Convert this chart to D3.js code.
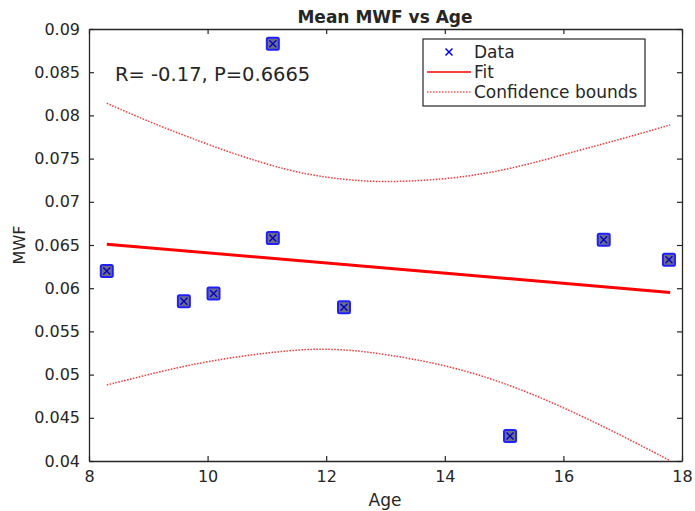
<!DOCTYPE html>
<html><head><meta charset="utf-8">
<script src="https://cdn.jsdelivr.net/npm/d3@7"></script>
<style>body{margin:0;background:#fff}text{font-family:"DejaVu Sans",sans-serif;fill:#262626}</style>
</head><body>
<svg id="c" width="695" height="511"></svg>
<script>
const ages = [8.3, 9.6, 10.1, 11.1, 11.1, 12.3, 15.1, 16.68, 17.78];
const mwf  = [0.0620, 0.0585, 0.0594, 0.0883, 0.0658, 0.0578, 0.0429, 0.0656, 0.0633];
const fitX = [8.3, 17.8];
const fitY = [0.0651, 0.0595];
const upperX = [8.3, 9.0, 9.67, 10.5, 11.36, 12.0, 12.6, 13.04, 13.8, 14.59, 15.4, 16.28, 17.0, 17.8];
const upperY = [0.0814, 0.0793, 0.0775, 0.0754, 0.0736, 0.0728, 0.0724, 0.0723, 0.0725, 0.0731, 0.0743, 0.0760, 0.0773, 0.0789];
const lowerX = [8.3, 9.0, 9.67, 10.5, 11.36, 11.91, 12.5, 13.04, 13.8, 14.59, 15.44, 16.28, 17.0, 17.78];
const lowerY = [0.0488, 0.0500, 0.0511, 0.0521, 0.0528, 0.0530, 0.0528, 0.0523, 0.0514, 0.0500, 0.0479, 0.0453, 0.0429, 0.0401];
const xTicks = [8, 10, 12, 14, 16, 18];
const yTicks = [0.04, 0.045, 0.05, 0.055, 0.06, 0.065, 0.07, 0.075, 0.08, 0.085, 0.09];
const title = "Mean MWF vs Age";
const annotation = "R= -0.17, P=0.6665";
const legendLabels = ["Data", "Fit", "Confidence bounds"];

const svg = d3.select("#c");
const L = 89, R = 682, T = 29, B = 461;
const x = d3.scaleLinear().domain([8, 18]).range([L, R]);
const y = d3.scaleLinear().domain([0.04, 0.09]).range([B, T]);
const axisColor = "#262626";

const fmtY = d => d3.format("")(+d.toFixed(3));
const gx = svg.append("g").attr("transform", `translate(0,${B})`)
  .call(d3.axisBottom(x).tickValues(xTicks).tickSizeInner(-5).tickSizeOuter(0).tickPadding(10));
const gxt = svg.append("g").attr("transform", `translate(0,${T})`)
  .call(d3.axisTop(x).tickValues(xTicks).tickSizeInner(-5).tickSizeOuter(0).tickFormat(""));
const gy = svg.append("g").attr("transform", `translate(${L},0)`)
  .call(d3.axisLeft(y).tickValues(yTicks).tickSizeInner(-5).tickSizeOuter(0).tickPadding(9).tickFormat(fmtY));
const gyr = svg.append("g").attr("transform", `translate(${R},0)`)
  .call(d3.axisRight(y).tickValues(yTicks).tickSizeInner(-5).tickSizeOuter(0).tickFormat(""));
[gx, gxt, gy, gyr].forEach(g => {
  g.select(".domain").attr("stroke", axisColor).attr("stroke-width", 1.3);
  g.selectAll(".tick line").attr("stroke", axisColor).attr("stroke-width", 1.2);
  g.selectAll(".tick text").style("font-size", "16px").style("font-family", "DejaVu Sans, sans-serif").attr("fill", axisColor);
});

const line = d3.line().x(d => x(d[0])).y(d => y(d[1])).curve(d3.curveBasis);
[[upperX, upperY], [lowerX, lowerY]].forEach(([xs, ys]) => {
  svg.append("path").attr("d", line(xs.map((v, i) => [v, ys[i]])))
    .attr("fill", "none").attr("stroke", "#ff0000").attr("stroke-width", 1.5)
    .attr("stroke-dasharray", "1.5,1.5").attr("opacity", 0.8);
});
svg.append("path").attr("d", d3.line().x(d => x(d[0])).y(d => y(d[1]))(fitX.map((v, i) => [v, fitY[i]])))
  .attr("fill", "none").attr("stroke", "#ff0000").attr("stroke-width", 3);

const s = 12;
const pts = svg.append("g").selectAll("g").data(ages.map((a, i) => [a, mwf[i]])).join("g")
  .attr("transform", d => `translate(${x(d[0])},${y(d[1])})`);
pts.append("rect").attr("x", -s/2).attr("y", -s/2).attr("width", s).attr("height", s).attr("rx", 1.5)
  .attr("fill", "#6e6e86").attr("stroke", "#2020ff").attr("stroke-width", 2);
pts.append("path").attr("d", "M-3.5,-3.5L3.5,3.5M-3.5,3.5L3.5,-3.5").attr("stroke", "#0000cc").attr("stroke-width", 1.4);

svg.append("text").attr("x", 385).attr("y", 23).attr("text-anchor", "middle")
  .style("font-size", "17px").style("font-weight", "bold").attr("fill", "#000").text(title);
svg.append("text").attr("x", 385).attr("y", 506).attr("text-anchor", "middle").style("font-size", "17px").text("Age");
svg.append("text").attr("transform", "translate(25,245) rotate(-90)").attr("text-anchor", "middle").style("font-size", "16px").text("MWF");
svg.append("text").attr("x", 115).attr("y", 81).style("font-size", "19.5px").attr("fill", "#000").text(annotation);

const lg = svg.append("g");
lg.append("rect").attr("x", 423).attr("y", 39).attr("width", 222).attr("height", 67)
  .attr("fill", "#fff").attr("stroke", axisColor).attr("stroke-width", 1.2);
const ly = [52, 72, 92];
lg.append("path").attr("d", `M${449-3.5},${ly[0]-3.5}l7,7M${449-3.5},${ly[0]+3.5}l7,-7`).attr("stroke", "#0000ff").attr("stroke-width", 1.5);
lg.append("line").attr("x1", 427).attr("x2", 471).attr("y1", ly[1]).attr("y2", ly[1]).attr("stroke", "#ff0000").attr("stroke-width", 1.5);
lg.append("line").attr("x1", 427).attr("x2", 471).attr("y1", ly[2]).attr("y2", ly[2]).attr("stroke", "#ff0000").attr("stroke-width", 1.2).attr("stroke-dasharray", "1.5,1.5");
legendLabels.forEach((t, i) => {
  lg.append("text").attr("x", 474).attr("y", ly[i] + 6).style("font-size", "17px").attr("fill", "#000").text(t);
});
</script>
</body></html>
